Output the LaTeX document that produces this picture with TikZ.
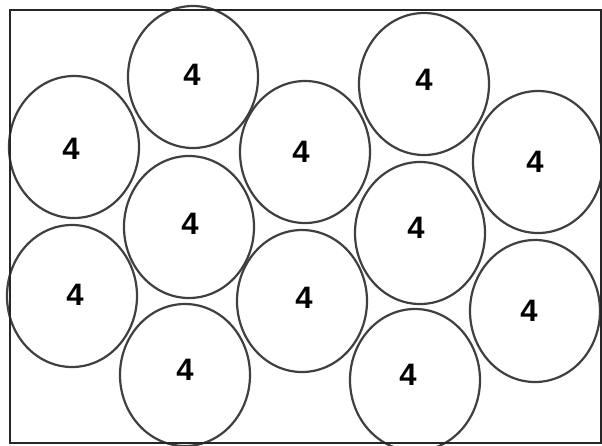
\documentclass[tikz,border=0pt]{standalone}
\usepackage{fontspec}
\setmainfont{Liberation Sans}
\usetikzlibrary{shapes.geometric}
\begin{document}
\begin{tikzpicture}[x=1pt,y=-1pt,
  disc/.style={ellipse,draw=black!75,line width=2.2pt,minimum width=130pt,minimum height=142pt,inner sep=0pt},
  num/.style={font=\fontsize{31}{34}\selectfont\bfseries,inner sep=0pt,text=black}]
\useasboundingbox (0,0) rectangle (602,445);
\fill[white] (0,0) rectangle (602,445);
\begin{scope}
\clip (0,0) rectangle (602,445);
\node[disc] (a) at (74,147) {};
\node[disc] (b) at (193,77) {};
\node[disc] (c) at (305,152) {};
\node[disc] (d) at (424,84) {};
\node[disc] (e) at (538,162) {};
\node[disc] (f) at (189,227) {};
\node[disc] (g) at (420,233) {};
\node[disc] (h) at (72,296) {};
\node[disc] (i) at (302,301) {};
\node[disc] (j) at (535,311) {};
\node[disc] (k) at (185,375) {};
\node[disc] (l) at (415,380) {};
\end{scope}
\foreach \n/\p in {a/{(71,149)},b/{(192,75)},c/{(301,152)},d/{(424,80)},e/{(535,162)},f/{(190,224)},
  g/{(416,228)},h/{(75,295)},i/{(304,298)},j/{(529,311)},k/{(185,370)},l/{(408,375)}}{
  \node[num] (t\n) at \p {4};
}
\draw[black!85,line width=2.4pt] (10,10) rectangle (601,443);
\end{tikzpicture}
\end{document}
